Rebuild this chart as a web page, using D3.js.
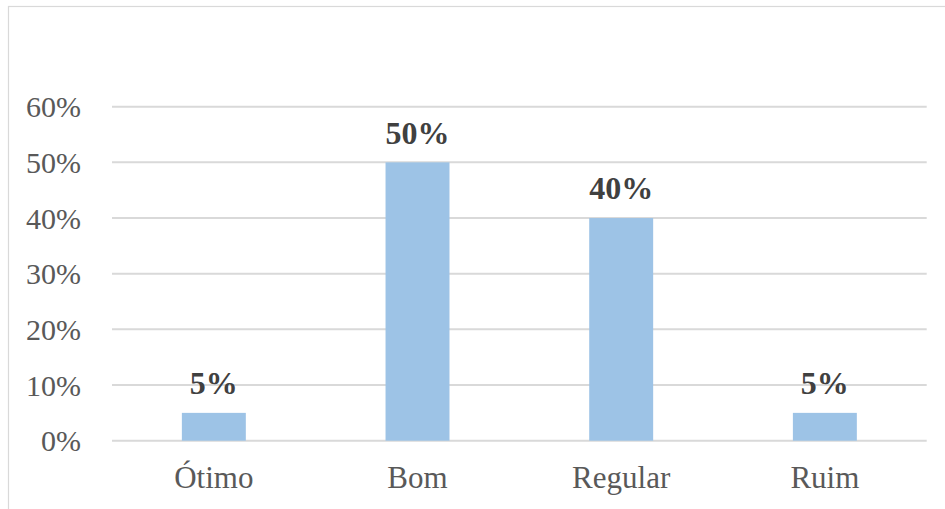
<!DOCTYPE html>
<html>
<head>
<meta charset="utf-8">
<script src="https://cdn.jsdelivr.net/npm/d3@7"></script>
<style>
  html, body { margin: 0; padding: 0; background: #fff; }
  svg { display: block; }
</style>
</head>
<body>
<svg id="chart" width="945" height="509"></svg>
<script>
// Survey results by rating
const categories = ["Ótimo", "Bom", "Regular", "Ruim"];
const values = [0.05, 0.50, 0.40, 0.05];
const tickValues = [0, 0.1, 0.2, 0.3, 0.4, 0.5, 0.6];

const W = 945, H = 509;
const svg = d3.select("#chart");

// chart-area frame (extends past right and bottom edges)
svg.append("rect")
  .attr("x", 8.5).attr("y", 6.5)
  .attr("width", W + 20).attr("height", H + 20)
  .attr("fill", "#fff")
  .attr("stroke", "#d9d9d9").attr("stroke-width", 1.2);

const plot = { left: 112, right: 926.7, top: 106.7, bottom: 440.7 };

const x = d3.scaleBand()
  .domain(categories)
  .range([plot.left, plot.right])
  .paddingInner(0.686)
  .paddingOuter(0.343);

const y = d3.scaleLinear()
  .domain([0, 0.6])
  .range([plot.bottom, plot.top]);

const fmt = d3.format(".0%");
const serif = "'Liberation Serif', 'Times New Roman', serif";

// horizontal gridlines
svg.append("g")
  .selectAll("line")
  .data(tickValues)
  .join("line")
  .attr("x1", plot.left).attr("x2", plot.right)
  .attr("y1", d => y(d)).attr("y2", d => y(d))
  .attr("stroke", "#d9d9d9").attr("stroke-width", 2);

// y tick labels
svg.append("g")
  .selectAll("text")
  .data(tickValues)
  .join("text")
  .attr("x", 81)
  .attr("y", d => y(d) + 10.6)
  .attr("text-anchor", "end")
  .attr("font-family", serif)
  .attr("font-size", 30)
  .attr("fill", "#595959")
  .text(d => fmt(d));

// bars
svg.append("g")
  .selectAll("rect")
  .data(categories)
  .join("rect")
  .attr("x", d => x(d))
  .attr("width", x.bandwidth())
  .attr("y", (d, i) => y(values[i]))
  .attr("height", (d, i) => y(0) - y(values[i]))
  .attr("fill", "#9dc3e6");

// value labels
svg.append("g")
  .selectAll("text")
  .data(categories)
  .join("text")
  .attr("x", d => x(d) + x.bandwidth() / 2)
  .attr("y", (d, i) => y(values[i]) - 18.7)
  .attr("text-anchor", "middle")
  .attr("font-family", serif)
  .attr("font-size", 32)
  .attr("font-weight", "bold")
  .attr("fill", "#404040")
  .text((d, i) => fmt(values[i]));

// category labels
svg.append("g")
  .selectAll("text")
  .data(categories)
  .join("text")
  .attr("x", d => x(d) + x.bandwidth() / 2)
  .attr("y", 488)
  .attr("text-anchor", "middle")
  .attr("font-family", serif)
  .attr("font-size", 31)
  .attr("fill", "#595959")
  .text(d => d);
</script>
</body>
</html>
